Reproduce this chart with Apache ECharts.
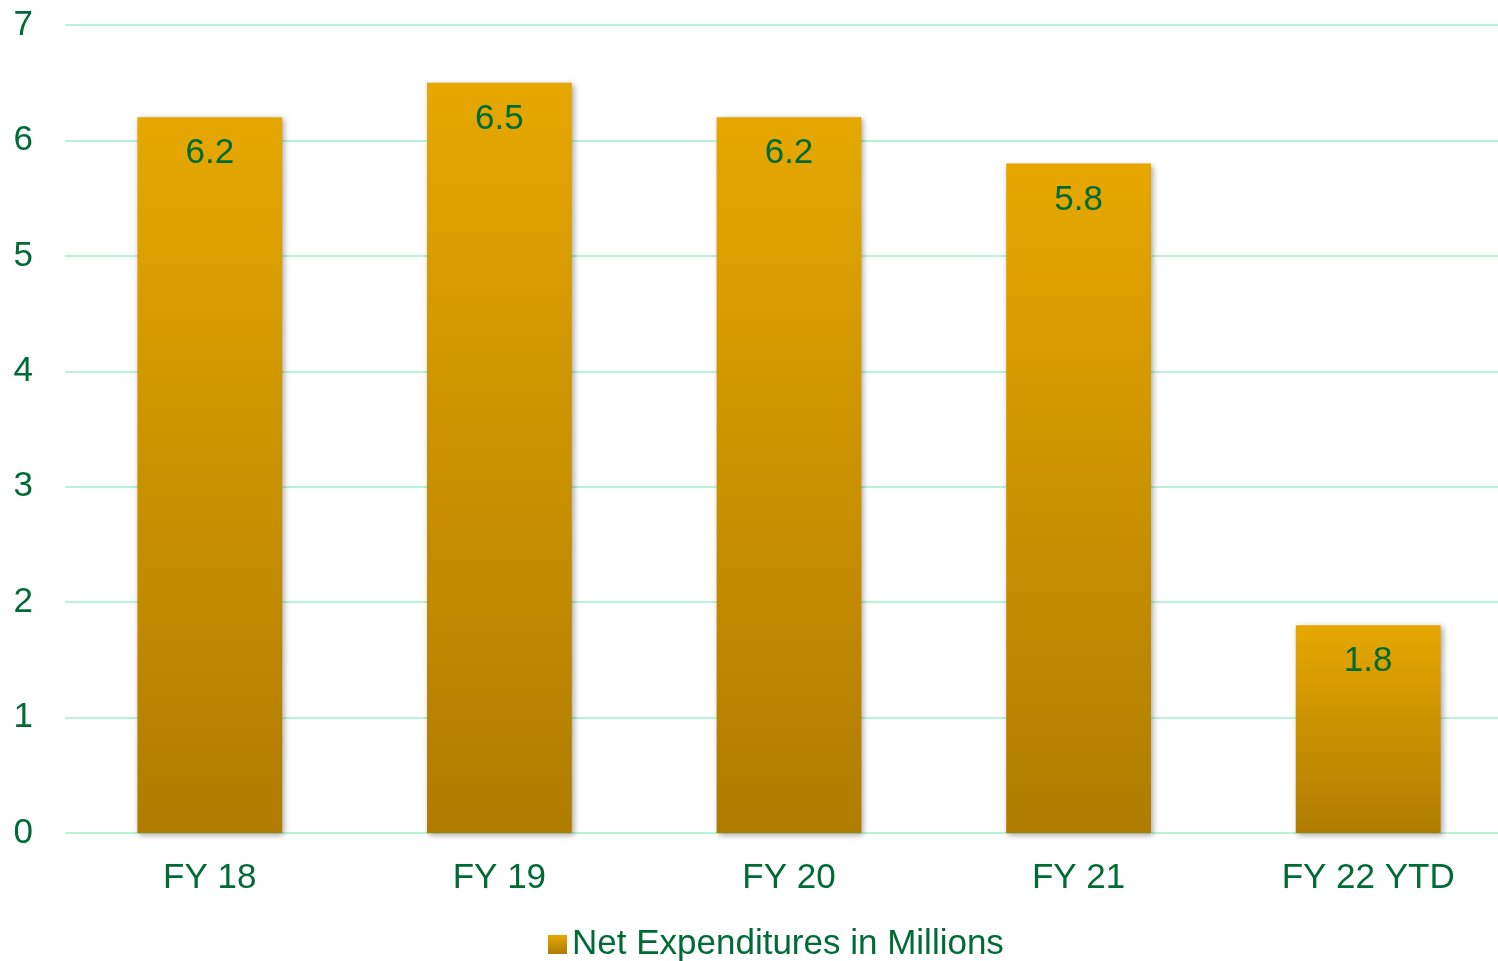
<!DOCTYPE html>
<html>
<head>
<meta charset="utf-8">
<script src="https://cdn.jsdelivr.net/npm/echarts@6/dist/echarts.min.js"></script>
<style>
  html, body { margin: 0; padding: 0; background: #fff; }
  #chart { width: 1498px; height: 961px; }
</style>
</head>
<body>
<div id="chart"></div>
<script>
var categories = ["FY 18", "FY 19", "FY 20", "FY 21", "FY 22 YTD"];
var netExpenditures = [6.2, 6.5, 6.2, 5.8, 1.8];
var seriesName = "Net Expenditures in Millions";

var green = "#006B35";
var barFill = new echarts.graphic.LinearGradient(0, 0, 0, 1, [
  { offset: 0, color: "#E6A700" },
  { offset: 1, color: "#AF7C00" }
]);

var chart = echarts.init(document.getElementById("chart"));
var option = {
  animation: false,
  // plot runs a bit past the right edge, like the original
  grid: { left: 65, width: 1448, top: 25, height: 808, outerBoundsMode: "none" },
  legend: {
    top: 922,
    left: 543,
    itemWidth: 19,
    itemHeight: 19,
    itemGap: 6,
    icon: "rect",
    textStyle: { color: green, fontSize: 35, fontFamily: "Liberation Sans, Arial" },
    data: [seriesName]
  },
  xAxis: {
    type: "category",
    data: categories,
    axisLine: { show: false },
    axisTick: { show: false },
    axisLabel: { color: green, fontSize: 35, margin: 28, fontFamily: "Liberation Sans, Arial" }
  },
  yAxis: {
    type: "value",
    min: 0,
    max: 7,
    interval: 1,
    axisLine: { show: false },
    axisTick: { show: false },
    axisLabel: { color: green, fontSize: 35, margin: 32, fontFamily: "Liberation Sans, Arial" },
    splitLine: { lineStyle: { color: "#B8F5D4", width: 2 } }
  },
  series: [{
    name: seriesName,
    type: "bar",
    data: netExpenditures,
    barWidth: "50%",
    itemStyle: {
      color: barFill,
      shadowColor: "rgba(0,0,0,0.35)",
      shadowBlur: 6,
      shadowOffsetX: 2,
      shadowOffsetY: 2
    },
    label: {
      show: true,
      position: "insideTop",
      distance: 19,
      color: green,
      fontSize: 35,
      fontFamily: "Liberation Sans, Arial"
    }
  }]
};
chart.setOption(option);
</script>
</body>
</html>
